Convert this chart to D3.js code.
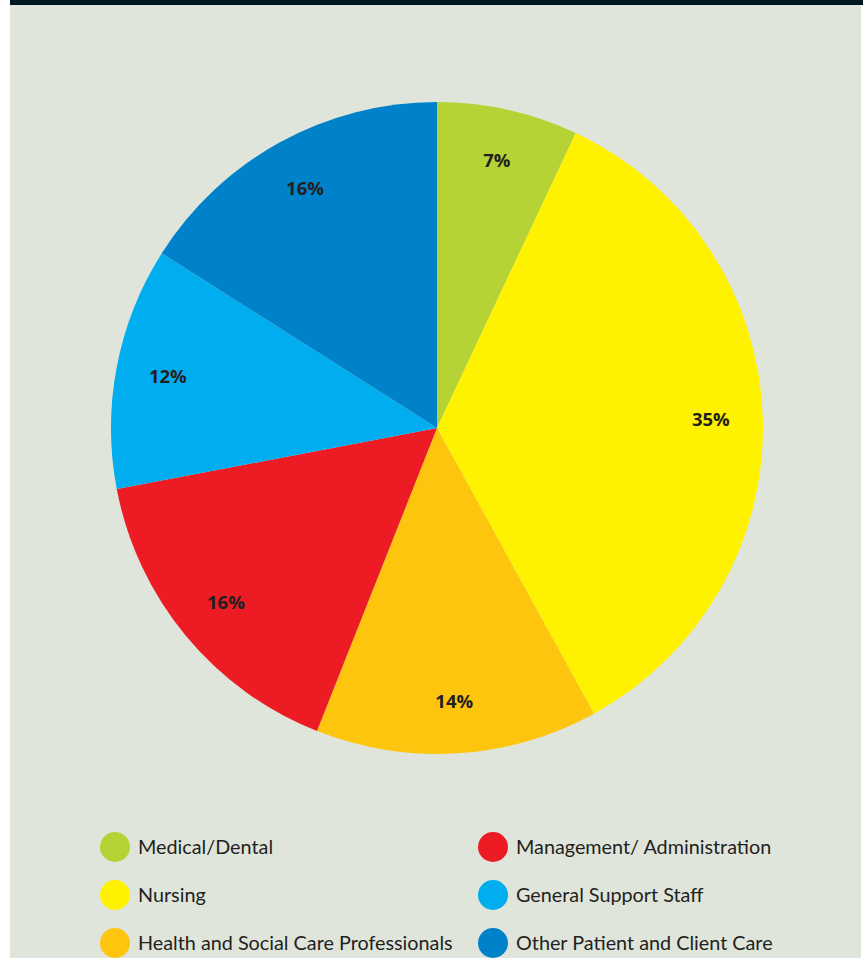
<!DOCTYPE html>
<html>
<head>
<meta charset="utf-8">
<script src="https://cdn.jsdelivr.net/npm/d3@7"></script>
<style>
  html, body { margin: 0; padding: 0; background: #ffffff; }
  svg { display: block; }
</style>
</head>
<body>
<svg id="chart" width="863" height="958"></svg>
<script>
// Staff groups, in clockwise order starting from 12 o'clock
const categories = [
  "Medical/Dental",
  "Nursing",
  "Health and Social Care Professionals",
  "Management/ Administration",
  "General Support Staff",
  "Other Patient and Client Care"
];
const shares = [7, 35, 14, 16, 12, 16];
const colors = ["#b5d334", "#fff200", "#fec50f", "#ed1c24", "#00aeef", "#0082ca"];

// Legend layout: two columns, three rows
const legendColumns = [
  [0, 1, 2],
  [3, 4, 5]
];

const svg = d3.select("#chart");

// Panel background and the dark rule along its top
svg.append("rect").attr("x", 10).attr("y", 0).attr("width", 851).attr("height", 958).attr("fill", "#dfe5da");
svg.append("rect").attr("x", 10).attr("y", 0).attr("width", 853).attr("height", 5).attr("fill", "#001621");

const cx = 437, cy = 428, radius = 326;

const pie = d3.pie().sort(null).value(d => d.value);
const data = categories.map((c, i) => ({ name: c, value: shares[i], color: colors[i] }));
const arcs = pie(data);

const arc = d3.arc().innerRadius(0).outerRadius(radius);
const labelArc = d3.arc().innerRadius(274).outerRadius(274);

const g = svg.append("g").attr("transform", `translate(${cx},${cy})`);

g.selectAll("path.slice")
  .data(arcs)
  .join("path")
  .attr("class", "slice")
  .attr("d", arc)
  .attr("fill", d => d.data.color);

g.selectAll("text.pct")
  .data(arcs)
  .join("text")
  .attr("class", "pct")
  .attr("transform", d => `translate(${labelArc.centroid(d)})`)
  .attr("text-anchor", "middle")
  .attr("dy", "0.36em")
  .attr("font-family", "'Open Sans', sans-serif")
  .attr("font-weight", 700)
  .attr("font-size", 18.5)
  .attr("fill", "#231f20")
  .text(d => d.data.value + "%");

// Legend
const colX = [115, 493];
const rowY = [847, 895, 943];
const legend = svg.append("g");
legendColumns.forEach((col, ci) => {
  col.forEach((idx, ri) => {
    const item = legend.append("g").attr("transform", `translate(${colX[ci]},${rowY[ri]})`);
    item.append("circle").attr("r", 15).attr("fill", colors[idx]);
    item.append("text")
      .attr("x", 23)
      .attr("dy", "0.35em")
      .attr("font-family", "Lato, sans-serif")
      .attr("font-size", 19.8)
      .attr("fill", "#231f20")
      .text(categories[idx]);
  });
});
</script>
</body>
</html>
